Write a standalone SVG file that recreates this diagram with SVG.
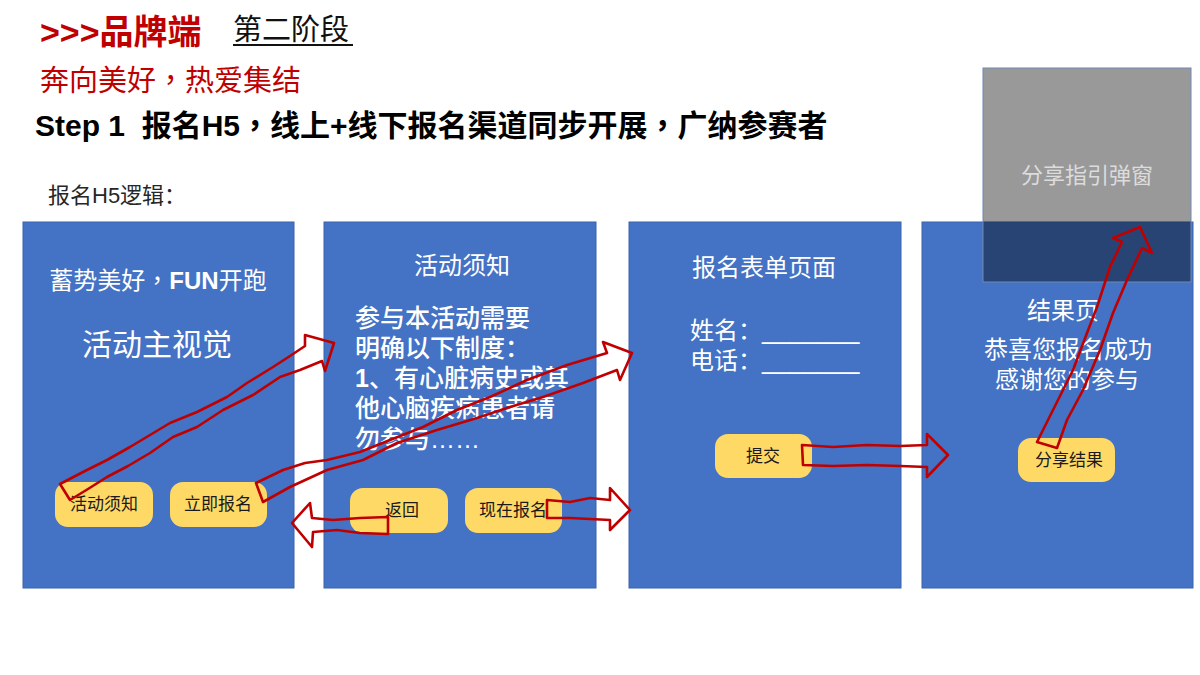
<svg xmlns="http://www.w3.org/2000/svg" width="1200" height="675" viewBox="0 0 1200 675">
<style>
.panel{fill:#4472C4;stroke:#3A63AE;stroke-width:1}
.btn{fill:#FFD966}
.arrow{fill:none;stroke:#C00000;stroke-width:2.6;stroke-linejoin:round;stroke-linecap:round}
.f{font-family:'Liberation Sans','Noto Sans CJK SC',sans-serif}
.wt{fill:#FFFFFF}
.bt{fill:#1A1A1A;text-anchor:middle}
.tc{font-family:'Noto Sans CJK TC',sans-serif}
</style>
<rect width="1200" height="675" fill="#FFFFFF"/>
<g id="header">
<text class="f" x="40" y="44" font-size="34" font-weight="bold" fill="#C00000">&gt;&gt;&gt;品牌端</text>
<text class="f" x="233" y="40" font-size="29" fill="#111111">第二阶段</text>
<line x1="233" y1="45" x2="353" y2="45" stroke="#111111" stroke-width="2"/>
<text class="f" x="40" y="91" font-size="29" fill="#C00000">奔向美好<tspan class="tc" xml:lang="zh-TW">，</tspan>热爱集结</text>
<text class="f" x="35" y="136" font-size="30" font-weight="bold" fill="#000000" xml:space="preserve">Step 1  报名H5<tspan class="tc" xml:lang="zh-TW">，</tspan>线上+线下报名渠道同步开展<tspan class="tc" xml:lang="zh-TW">，</tspan>广纳参赛者</text>
<text class="f" x="48" y="203" font-size="22" fill="#262626">报名H5逻辑：</text>
</g>
<g id="page-home">
<rect class="panel" x="23" y="222" width="271" height="366"/>
<text class="f wt" x="158" y="289" font-size="24" text-anchor="middle">蓄势美好<tspan class="tc" xml:lang="zh-TW">，</tspan><tspan font-weight="bold">FUN</tspan>开跑</text>
<text class="f wt" x="157" y="355" font-size="30" text-anchor="middle">活动主视觉</text>
<rect class="btn" x="55" y="482" width="98" height="45" rx="13"/>
<text class="f bt" x="104" y="510" font-size="17">活动须知</text>
<rect class="btn" x="170" y="482" width="97" height="45" rx="13"/>
<text class="f bt" x="218" y="510" font-size="17">立即报名</text>
</g>
<g id="page-notice">
<rect class="panel" x="324" y="222" width="272" height="366"/>
<text class="f wt" x="462" y="274" font-size="24" text-anchor="middle">活动须知</text>
<text class="f wt" x="355" y="327" font-size="25" font-weight="500">参与本活动需要</text>
<text class="f wt" x="355" y="357" font-size="25" font-weight="500">明确以下制度：</text>
<text class="f wt" x="355" y="387" font-size="25" font-weight="500"><tspan font-weight="bold">1</tspan>、有心脏病史或其</text>
<text class="f wt" x="355" y="417" font-size="25" font-weight="500">他心脑疾病患者请</text>
<text class="f wt" x="355" y="448" font-size="25" font-weight="500">勿参与……</text>
<rect class="btn" x="350" y="488" width="98" height="45" rx="13"/>
<text class="f bt" x="402" y="516" font-size="17">返回</text>
<rect class="btn" x="465" y="488" width="97" height="45" rx="13"/>
<text class="f bt" x="513" y="516" font-size="17">现在报名</text>
</g>
<g id="page-form">
<rect class="panel" x="629" y="222" width="272" height="366"/>
<text class="f wt" x="764" y="276" font-size="24" text-anchor="middle">报名表单页面</text>
<text class="f wt" x="690" y="339" font-size="24">姓名：<tspan font-family="Liberation Sans" font-size="25">_______</tspan></text>
<text class="f wt" x="690" y="369" font-size="24">电话：<tspan font-family="Liberation Sans" font-size="25">_______</tspan></text>
<rect class="btn" x="715" y="434" width="97" height="44" rx="13"/>
<text class="f bt" x="763" y="462" font-size="17">提交</text>
</g>
<g id="page-result">
<rect class="panel" x="922" y="222" width="271" height="366"/>
<text class="f wt" x="1063" y="319" font-size="24" text-anchor="middle">结果页</text>
<text class="f wt" x="1068" y="358" font-size="24" text-anchor="middle">恭喜您报名成功</text>
<text class="f wt" x="1067" y="388" font-size="24" text-anchor="middle">感谢您的参与</text>
<rect class="btn" x="1018" y="438" width="97" height="44" rx="13"/>
<text class="f bt" x="1069" y="466" font-size="17">分享结果</text>
</g>
<g id="share-popup">
<rect x="983" y="68" width="208" height="214" fill="#000000" fill-opacity="0.4" stroke="#7088B4" stroke-width="1"/>
<text class="f" x="1087" y="183" font-size="22" fill="#DCDCDC" text-anchor="middle">分享指引弹窗</text>
</g>
<g id="connectors">
<path class="arrow" d="M70,500 L60,484 L83,472 L107,460 L130,447 L150,435 L170,423 L197,412 L227,397 L247,383 L273,367 L290,356 L305,346 L305,335 L334,343 L325,371 L322,361 L300,370 L280,377 L253,395 L223,410 L197,427 L173,437 L150,453 L128,466 L107,477 L88,489 Z"/>
<path class="arrow" d="M263,502 L256,483 L283,470 L305,463 L327,460 L360,452 L390,440 L423,427 L457,410 L490,397 L527,380 L567,365 L607,353 L603,342 L632,353 L620,380 L617,370 L583,383 L543,397 L510,407 L477,418 L437,430 L397,443 L363,460 L327,470 L290,487 Z"/>
<path class="arrow" d="M388,517 L360,518 L333,520 L312,518 L310,503 L292,523 L312,547 L313,532 L337,530 L360,533 L388,534 Z"/>
<path class="arrow" d="M547,500 L570,502 L590,498 L610,500 L610,488 L630,510 L610,530 L610,520 L590,519 L570,518 L547,518 Z"/>
<path class="arrow" d="M802,445 L833,447 L867,445 L900,446 L927,445 L927,434 L948,455 L927,477 L927,467 L900,466 L867,465 L833,466 L803,465 Z"/>
<path class="arrow" d="M1057,448 L1037,442 L1053,410 L1073,370 L1087,333 L1097,307 L1110,267 L1122,242 L1113,238 L1140,227 L1152,253 L1142,248 L1127,280 L1113,313 L1100,350 L1083,390 L1067,420 Z"/>
</g>
</svg>
